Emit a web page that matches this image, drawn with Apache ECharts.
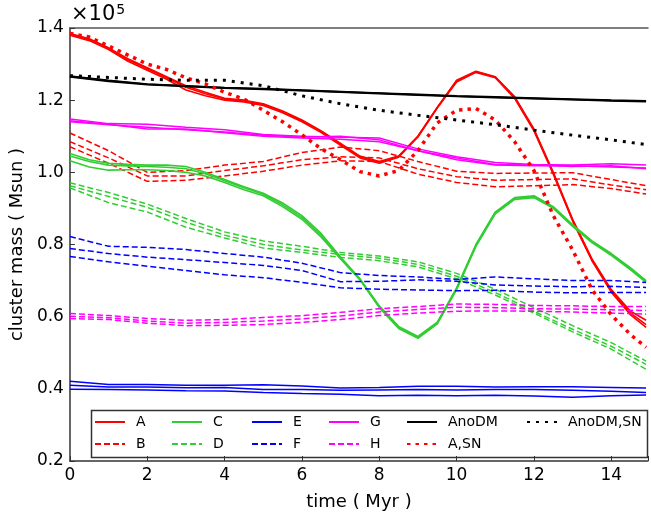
<!DOCTYPE html>
<html><head><meta charset="utf-8">
<script src="https://cdn.jsdelivr.net/npm/echarts@6/dist/echarts.min.js"></script>
<style>html,body{margin:0;padding:0;background:#fff}#c{width:651px;height:516px}</style>
</head><body><div id="c"></div>
<script>
// time grids (Myr)
const tFine = [0,0.5,1,1.5,2,2.5,3,3.5,4,4.5,5,5.5,6,6.5,7,7.5,8,8.5,9,9.5,10,10.5,11,11.5,12,12.5,13,13.5,14,14.5,14.9];
const tCoarse = [0,1,2,3,4,5,6,7,8,9,10,11,12,13,14,14.9];
const xTicks = [0,2,4,6,8,10,12,14];
const yTicks = [0.2,0.4,0.6,0.8,1.0,1.2,1.4];

// cluster mass (x1e5 Msun)
const A1 = [1.385,1.37,1.345,1.315,1.29,1.265,1.24,1.222,1.205,1.2,1.19,1.17,1.145,1.115,1.08,1.045,1.03,1.045,1.1,1.18,1.255,1.28,1.265,1.21,1.12,1.0,0.87,0.76,0.675,0.615,0.59];
const A2 = [1.38,1.365,1.34,1.308,1.283,1.258,1.228,1.212,1.2,1.195,1.185,1.165,1.14,1.11,1.075,1.04,1.025,1.042,1.098,1.178,1.25,1.277,1.262,1.205,1.115,0.995,0.865,0.755,0.668,0.605,0.57];
const A3 = [1.383,1.368,1.343,1.312,1.287,1.262,1.236,1.218,1.203,1.198,1.188,1.168,1.143,1.113,1.078,1.043,1.028,1.044,1.1,1.18,1.253,1.279,1.264,1.208,1.118,0.998,0.868,0.758,0.672,0.61,0.578];
const ASN = [1.385,1.375,1.35,1.325,1.30,1.285,1.262,1.245,1.222,1.203,1.172,1.14,1.104,1.065,1.035,1.002,0.99,1.005,1.06,1.137,1.172,1.177,1.145,1.085,1.005,0.88,0.785,0.675,0.605,0.55,0.515];
const C1 = [1.052,1.035,1.025,1.022,1.02,1.02,1.016,1.0,0.98,0.96,0.942,0.915,0.88,0.83,0.765,0.705,0.63,0.573,0.545,0.585,0.68,0.8,0.89,0.93,0.935,0.905,0.855,0.81,0.775,0.735,0.7];
const C2 = [1.032,1.015,1.006,1.007,1.007,1.005,1.0,0.99,0.972,0.952,0.935,0.905,0.87,0.82,0.76,0.702,0.625,0.567,0.54,0.58,0.675,0.795,0.885,0.925,0.93,0.9,0.85,0.805,0.77,0.73,0.695];
const C3 = [1.045,1.03,1.02,1.018,1.016,1.014,1.01,0.996,0.977,0.957,0.939,0.91,0.875,0.825,0.762,0.704,0.628,0.57,0.542,0.582,0.678,0.798,0.888,0.928,0.933,0.903,0.853,0.808,0.773,0.733,0.698];

const B1 = [1.109,1.06,1.0,1.005,1.02,1.03,1.055,1.07,1.06,1.03,1.003,0.997,0.998,0.999,0.98,0.963];
const B2 = [1.085,1.04,0.99,0.99,1.005,1.018,1.035,1.043,1.04,1.01,0.988,0.978,0.98,0.982,0.965,0.952];
const B3 = [1.071,1.025,0.975,0.978,0.99,1.003,1.02,1.032,1.03,0.995,0.972,0.96,0.963,0.966,0.955,0.94];
const D1 = [0.971,0.944,0.912,0.872,0.835,0.81,0.795,0.778,0.768,0.752,0.72,0.676,0.625,0.575,0.528,0.477];
const D2 = [0.963,0.933,0.903,0.862,0.826,0.8,0.785,0.772,0.762,0.745,0.712,0.667,0.615,0.565,0.518,0.468];
const D3 = [0.957,0.916,0.89,0.848,0.818,0.79,0.778,0.764,0.755,0.738,0.705,0.66,0.61,0.558,0.51,0.454];
const E1 = [0.421,0.412,0.412,0.41,0.41,0.411,0.408,0.402,0.404,0.407,0.407,0.405,0.406,0.406,0.404,0.402];
const E2 = [0.41,0.405,0.405,0.403,0.404,0.398,0.398,0.396,0.397,0.398,0.397,0.398,0.398,0.396,0.393,0.39];
const E3 = [0.399,0.398,0.397,0.395,0.394,0.39,0.387,0.385,0.381,0.382,0.381,0.382,0.38,0.377,0.381,0.383];
const F1 = [0.822,0.795,0.792,0.786,0.775,0.765,0.748,0.722,0.714,0.71,0.703,0.71,0.705,0.7,0.7,0.695];
const F2 = [0.789,0.775,0.765,0.758,0.75,0.742,0.728,0.697,0.698,0.702,0.698,0.688,0.685,0.683,0.684,0.681];
const F3 = [0.767,0.752,0.74,0.728,0.716,0.708,0.695,0.68,0.676,0.674,0.672,0.673,0.668,0.666,0.667,0.667];
const G1 = [1.148,1.135,1.133,1.125,1.118,1.105,1.1,1.097,1.095,1.065,1.043,1.027,1.022,1.02,1.024,1.02];
const G2 = [1.14,1.132,1.125,1.118,1.112,1.103,1.098,1.1,1.09,1.06,1.04,1.022,1.02,1.016,1.018,1.01];
const G3 = [1.143,1.133,1.12,1.12,1.11,1.1,1.095,1.092,1.085,1.06,1.035,1.02,1.018,1.018,1.015,1.012];
const H1 = [0.609,0.603,0.595,0.59,0.592,0.598,0.603,0.612,0.622,0.628,0.635,0.634,0.631,0.63,0.628,0.628];
const H2 = [0.601,0.597,0.588,0.582,0.584,0.588,0.594,0.602,0.613,0.62,0.626,0.625,0.622,0.621,0.619,0.617];
const H3 = [0.595,0.592,0.582,0.575,0.576,0.578,0.584,0.592,0.603,0.61,0.615,0.616,0.615,0.613,0.61,0.607];
const N1 = [1.267,1.255,1.245,1.24,1.235,1.232,1.228,1.224,1.22,1.216,1.212,1.209,1.206,1.203,1.2,1.198];
const N2 = [1.264,1.252,1.243,1.238,1.233,1.23,1.226,1.222,1.218,1.214,1.21,1.207,1.204,1.201,1.198,1.196];
const N3 = [1.266,1.254,1.244,1.239,1.234,1.231,1.227,1.223,1.219,1.215,1.211,1.208,1.205,1.202,1.199,1.197];
const NSN = [1.268,1.263,1.258,1.255,1.255,1.24,1.212,1.19,1.172,1.158,1.145,1.132,1.117,1.103,1.09,1.077];

const RED='#ff0000', GREEN='#32cd32', BLUE='#0000ff', MAG='#ff00ff', BLK='#000000';
const DASH=[6,3];
function mk(name, t, ys, color, type, width){
  return {type:'line', name, data:t.map((x,i)=>[x,ys[i]]), symbol:'none', showSymbol:false,
    silent:true, animation:false, clip:true,
    lineStyle:{color, width, type, cap:'butt'}, itemStyle:{color}};
}
const series = [
  mk('A',tFine,A1,RED,'solid',1.6), mk('A',tFine,A2,RED,'solid',1.6), mk('A',tFine,A3,RED,'solid',1.6),
  mk('B',tCoarse,B1,RED,DASH,1.5), mk('B',tCoarse,B2,RED,DASH,1.5), mk('B',tCoarse,B3,RED,DASH,1.5),
  mk('C',tFine,C1,GREEN,'solid',1.6), mk('C',tFine,C2,GREEN,'solid',1.6), mk('C',tFine,C3,GREEN,'solid',1.6),
  mk('D',tCoarse,D1,GREEN,DASH,1.5), mk('D',tCoarse,D2,GREEN,DASH,1.5), mk('D',tCoarse,D3,GREEN,DASH,1.5),
  mk('E',tCoarse,E1,BLUE,'solid',1.5), mk('E',tCoarse,E2,BLUE,'solid',1.5), mk('E',tCoarse,E3,BLUE,'solid',1.5),
  mk('F',tCoarse,F1,BLUE,DASH,1.5), mk('F',tCoarse,F2,BLUE,DASH,1.5), mk('F',tCoarse,F3,BLUE,DASH,1.5),
  mk('G',tCoarse,G1,MAG,'solid',1.5), mk('G',tCoarse,G2,MAG,'solid',1.5), mk('G',tCoarse,G3,MAG,'solid',1.5),
  mk('H',tCoarse,H1,MAG,DASH,1.5), mk('H',tCoarse,H2,MAG,DASH,1.5), mk('H',tCoarse,H3,MAG,DASH,1.5),
  mk('AnoDM',tCoarse,N1,BLK,'solid',1.6), mk('AnoDM',tCoarse,N2,BLK,'solid',1.6), mk('AnoDM',tCoarse,N3,BLK,'solid',1.6),
  mk('A,SN',tFine,ASN,RED,[3.5,5],3.5),
  mk('AnoDM,SN',tCoarse,NSN,BLK,[3,6],3)
];

const FONT='DejaVu Sans';
const legCols = [[['A','B'],89],[['C','D'],166],[['E','F'],246],[['G','H'],323],[['AnoDM','A,SN'],401],[['AnoDM,SN'],521]];
const legends = legCols.map(([names,left])=>({
  data:names, left:left, top:410, orient:'vertical', itemWidth:30, itemHeight:14, itemGap:8,
  selectedMode:false,
  itemStyle:{opacity:0},
  textStyle:{fontFamily:FONT,fontSize:14,color:'#000',padding:[0,0,0,6]}
}));

const chart = echarts.init(document.getElementById('c'), null, {renderer:'canvas'});
chart.setOption({
  animation:false,
  backgroundColor:'#fff',
  grid:{left:69, right:0, top:28, bottom:54, containLabel:false},
  xAxis:[{
    type:'value', min:0, max:14.95, interval:2, position:'bottom',
    name:'time ( Myr )', nameLocation:'middle', nameGap:32,
    nameTextStyle:{fontFamily:FONT,fontSize:18,color:'#000'},
    axisLine:{show:true,onZero:false,lineStyle:{color:'#333',width:1.5}},
    axisTick:{show:true,inside:true,length:5,lineStyle:{color:'#333'}},
    axisLabel:{fontFamily:FONT,fontSize:17,color:'#000',margin:6,
      formatter:v=>xTicks.indexOf(Math.round(v*100)/100)>=0?String(v):''},
    splitLine:{show:false}
  },{
    type:'value', min:0, max:14.95, position:'top',
    axisLine:{show:true,onZero:false,lineStyle:{color:'#555',width:1.5}},
    axisTick:{show:false}, axisLabel:{show:false}, splitLine:{show:false}
  }],
  yAxis:{
    type:'value', min:0.2, max:1.4, interval:0.2,
    name:'cluster mass ( Msun )', nameLocation:'middle', nameGap:42,
    nameTextStyle:{fontFamily:FONT,fontSize:18,color:'#000'},
    axisLine:{show:true,onZero:false,lineStyle:{color:'#333',width:1.5}},
    axisTick:{show:true,inside:true,length:5,lineStyle:{color:'#333'}},
    axisLabel:{fontFamily:FONT,fontSize:17,color:'#000',margin:6,formatter:v=>v.toFixed(1)},
    splitLine:{show:false}
  },
  legend:legends,
  graphic:[
    {type:'rect', left:89, top:408, shape:{width:556,height:47}, style:{fill:'none',stroke:'#333',lineWidth:1.5}, z:100, silent:true},
    {type:'text', left:71, top:3, style:{text:'×10{s|5}', fontFamily:FONT, fontSize:21, fill:'#000',
      rich:{s:{fontFamily:FONT,fontSize:14,verticalAlign:'top',padding:[0,0,10,1]}}}}
  ],
  series:series
});
</script></body></html>
